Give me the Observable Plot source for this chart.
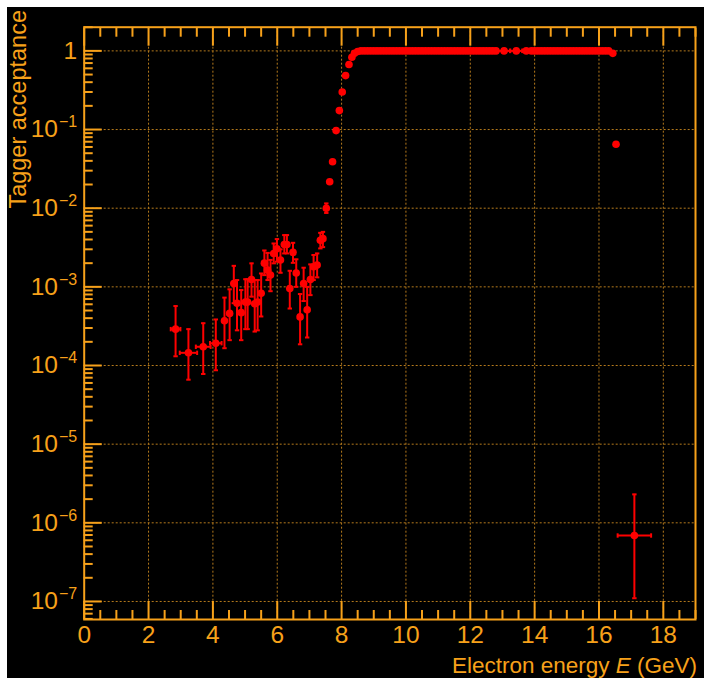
<!DOCTYPE html>
<html><head><meta charset="utf-8">
<script src="https://cdn.jsdelivr.net/npm/d3@7"></script>
<script src="https://cdn.jsdelivr.net/npm/@observablehq/plot@0.6"></script>
<style>
body{margin:0;background:#fff;}
#bg{position:absolute;left:7px;top:7px;width:697px;height:671px;background:#000;}
#chart{position:absolute;left:0;top:0;}
</style></head><body><div id="bg"></div><div id="chart"></div>
<script>
// Low-acceptance bins with error bars
const errE    = [2.84, 3.24, 3.70, 4.09, 4.36, 4.52, 4.65, 4.75, 4.88, 5.01, 5.08, 5.20, 5.30, 5.39, 5.50, 5.60, 5.70, 5.79, 5.89, 5.99, 6.10, 6.22, 6.30, 6.39, 6.49, 6.59, 6.71, 6.82, 6.93, 7.03, 7.13, 7.24, 7.34, 7.42, 7.525, 17.1];
const errVal  = [2.9e-4, 1.45e-4, 1.73e-4, 1.92e-4, 3.7e-4, 4.6e-4, 1.1e-3, 6.2e-4, 4.7e-4, 6.4e-4, 6.4e-4, 1.24e-3, 6.1e-4, 6.4e-4, 8.3e-4, 2.0e-3, 1.63e-3, 1.41e-3, 2.66e-3, 3.05e-3, 2.19e-3, 3.45e-3, 3.45e-3, 9.5e-4, 2.74e-3, 1.5e-3, 4.15e-4, 1.1e-3, 5.1e-4, 1.24e-3, 1.8e-3, 1.89e-3, 3.9e-3, 4.1e-3, 1.0e-2, 6.9e-7];
const errLow  = [1.31e-4, 6.6e-5, 7.8e-5, 8.7e-5, 1.66e-4, 2.1e-4, 6.2e-4, 2.8e-4, 2.1e-4, 2.9e-4, 2.9e-4, 7.5e-4, 2.7e-4, 2.8e-4, 4.2e-4, 1.41e-3, 1.22e-3, 8.8e-4, 1.99e-3, 2.09e-3, 1.51e-3, 2.66e-3, 2.66e-3, 5.3e-4, 2.02e-3, 1.0e-3, 1.86e-4, 6.6e-4, 2.27e-4, 7.85e-4, 1.22e-3, 1.32e-3, 3.08e-3, 3.2e-3, 8.7e-3, 1.1e-7];
const errHigh = [5.7e-4, 2.9e-4, 3.45e-4, 3.85e-4, 7.3e-4, 9.3e-4, 1.85e-3, 1.22e-3, 9.1e-4, 1.25e-3, 1.25e-3, 1.99e-3, 1.22e-3, 1.22e-3, 1.48e-3, 2.9e-3, 2.7e-3, 2.2e-3, 3.56e-3, 4.05e-3, 3.0e-3, 4.55e-3, 4.55e-3, 1.6e-3, 3.63e-3, 2.24e-3, 8.1e-4, 1.75e-3, 1.0e-3, 1.93e-3, 2.54e-3, 2.66e-3, 4.86e-3, 5.0e-3, 1.15e-2, 2.3e-6];
const errXE   = [0.15, 0.27, 0.23, 0.18, 0.05, 0.05, 0.05, 0.05, 0.05, 0.05, 0.05, 0.05, 0.05, 0.05, 0.05, 0.05, 0.05, 0.05, 0.05, 0.05, 0.05, 0.05, 0.05, 0.05, 0.05, 0.05, 0.05, 0.05, 0.05, 0.05, 0.05, 0.05, 0.05, 0.05, 0.05, 0.52];

// Turn-on and plateau bins (errors smaller than the markers)
const curveE = [7.63, 7.72, 7.83, 7.93, 8.02, 8.125, 8.23, 8.32, 8.40, 8.50,
  8.6, 8.7, 8.8, 8.9, 9.0, 9.1, 9.2, 9.3, 9.4, 9.5, 9.6, 9.7, 9.8, 9.9,
  10.0, 10.1, 10.2, 10.3, 10.4, 10.5, 10.6, 10.7, 10.8, 10.9,
  11.0, 11.1, 11.2, 11.3, 11.4, 11.5, 11.6, 11.7, 11.8, 11.9,
  12.0, 12.1, 12.2, 12.3, 12.4, 12.5, 12.6, 12.7, 12.8,
  13.9, 14.0, 14.1, 14.2, 14.3, 14.4, 14.5, 14.6, 14.7, 14.8, 14.9,
  15.0, 15.1, 15.2, 15.3, 15.4, 15.5, 15.6, 15.7, 15.8, 15.9,
  16.0, 16.1, 16.2, 16.3, 16.43, 16.53];
const curveVal = [0.0217, 0.039, 0.097, 0.174, 0.30, 0.485, 0.67, 0.83, 0.93, 0.98,
  1, 1, 1, 1, 1, 1, 1, 1, 1, 1, 1, 1, 1, 1,
  1, 1, 1, 1, 1, 1, 1, 1, 1, 1,
  1, 1, 1, 1, 1, 1, 1, 1, 1, 1,
  1, 1, 1, 1, 1, 1, 1, 1, 1,
  1, 1, 1, 1, 1, 1, 1, 1, 1, 1, 1,
  1, 1, 1, 1, 1, 1, 1, 1, 1, 1,
  1, 1, 1, 1, 0.93, 0.065];

// Wider bins on the plateau
const wideE   = [13.05, 13.43, 13.74];
const wideVal = [1, 1, 1];
const wideXE  = [0.19, 0.19, 0.12];

// Axis ticks
const xMajor = [0, 2, 4, 6, 8, 10, 12, 14, 16, 18];
const yMajor = [1e-7, 1e-6, 1e-5, 1e-4, 1e-3, 1e-2, 1e-1, 1];
const yLabels = ["10^-7", "10^-6", "10^-5", "10^-4", "10^-3", "10^-2", "10^-1", "1"];

const ORANGE = "#f7a11a";
const GRID = "#b57a1c";
const RED = "#ff0000";

const xMinor = d3.range(0.5, 19.01, 0.5).filter(v => v % 2 !== 0);
const yMinor = [];
for (let k = -8; k <= 0; k++) for (let m = 2; m <= 9; m++) {
  const v = m * Math.pow(10, k);
  if (v >= 5.9e-8 && v <= 2) yMinor.push(v);
}

const errData = errE.map((e, i) => ({e, v: errVal[i], lo: errLow[i], hi: errHigh[i], xe: errXE[i]}));
const curveData = curveE.map((e, i) => ({e, v: curveVal[i]}));
const wideData = wideE.map((e, i) => ({e, v: wideVal[i], xe: wideXE[i]}));
const hData = errData.concat(wideData);

const hcap = {draw(ctx) { ctx.moveTo(-2.2, 0); ctx.lineTo(2.2, 0); }};
const vcap = {draw(ctx) { ctx.moveTo(0, -2.2); ctx.lineTo(0, 2.2); }};

const plot = Plot.plot({
  width: 704, height: 685,
  marginLeft: 83.7, marginRight: 9, marginTop: 26.7, marginBottom: 66,
  style: {background: "transparent", fontFamily: "'Liberation Sans', Arial, sans-serif", overflow: "visible"},
  x: {domain: [0, 19], axis: null, label: null},
  y: {type: "log", domain: [5.9e-8, 2], axis: null, label: null},
  marks: [
    Plot.ruleX(xMajor.filter(v => v > 0), {stroke: GRID, strokeWidth: 1, strokeDasharray: "2,2"}),
    Plot.ruleY(yMajor, {stroke: GRID, strokeWidth: 1, strokeDasharray: "2,2"}),
    Plot.axisX(xMajor, {anchor: "bottom", tickSize: -18, tickFormat: () => "", color: ORANGE, strokeWidth: 2}),
    Plot.axisX(xMinor, {anchor: "bottom", tickSize: -9, tickFormat: () => "", color: ORANGE, strokeWidth: 2}),
    Plot.axisX(xMajor, {anchor: "top", tickSize: -18, tickFormat: () => "", color: ORANGE, strokeWidth: 2}),
    Plot.axisX(xMinor, {anchor: "top", tickSize: -9, tickFormat: () => "", color: ORANGE, strokeWidth: 2}),
    Plot.axisX(xMajor, {anchor: "bottom", tickSize: 0, tickPadding: 6, color: ORANGE, fontSize: 24.5, tickFormat: d => String(d)}),
    Plot.axisY(yMajor, {anchor: "left", tickSize: -18, tickFormat: () => "", color: ORANGE, strokeWidth: 2}),
    Plot.axisY(yMinor, {anchor: "left", tickSize: -9, tickFormat: () => "", color: ORANGE, strokeWidth: 2}),
    Plot.axisY(yMajor, {anchor: "left", tickSize: 0, tickPadding: 7, color: ORANGE, fontSize: 24.5, tickFormat: d => yLabels[yMajor.indexOf(d)]}),
    Plot.frame({stroke: ORANGE, strokeWidth: 2}),
    // error bars
    Plot.ruleX(errData, {x: "e", y1: "lo", y2: "hi", stroke: RED, strokeWidth: 2}),
    Plot.ruleY(hData, {y: "v", x1: d => d.e - d.xe, x2: d => d.e + d.xe, stroke: RED, strokeWidth: 2}),
    Plot.dot(errData, {x: "e", y: "lo", symbol: hcap, stroke: RED, strokeWidth: 2, fill: "none"}),
    Plot.dot(errData, {x: "e", y: "hi", symbol: hcap, stroke: RED, strokeWidth: 2, fill: "none"}),
    Plot.dot(hData, {x: d => d.e - d.xe, y: "v", symbol: vcap, stroke: RED, strokeWidth: 2, fill: "none"}),
    Plot.dot(hData, {x: d => d.e + d.xe, y: "v", symbol: vcap, stroke: RED, strokeWidth: 2, fill: "none"}),
    // markers
    Plot.dot(errData, {x: "e", y: "v", r: 3.8, fill: RED, stroke: "none"}),
    Plot.dot(wideData, {x: "e", y: "v", r: 3.8, fill: RED, stroke: "none"}),
    Plot.dot(curveData, {x: "e", y: "v", r: 3.8, fill: RED, stroke: "none"})
  ]
});

document.getElementById("chart").appendChild(plot);

// superscript exponents on y tick labels
const svg = d3.select(plot);
svg.selectAll("text").each(function() {
  const t = this.textContent;
  const m = /^10\^(-?\d+)$/.exec(t);
  if (m) {
    const el = d3.select(this);
    el.text("");
    el.append("tspan").text("10");
    el.append("tspan").attr("dy", "-10").attr("dx", "1").attr("font-size", 16).text(m[1].replace("-", "\u2212"));
  }
});

// axis titles
const xt = svg.append("text")
  .attr("x", 697).attr("y", 673)
  .attr("text-anchor", "end")
  .attr("fill", ORANGE)
  .attr("font-size", 22.5)
  .attr("font-family", "'Liberation Sans', Arial, sans-serif");
xt.append("tspan").text("Electron energy ");
xt.append("tspan").attr("font-style", "italic").text("E");
xt.append("tspan").text(" (GeV)");

svg.append("text")
  .attr("transform", "translate(26,10) rotate(-90)")
  .attr("text-anchor", "end")
  .attr("fill", ORANGE)
  .attr("font-size", 23.5)
  .attr("font-family", "'Liberation Sans', Arial, sans-serif")
  .text("Tagger acceptance");
</script></body></html>
